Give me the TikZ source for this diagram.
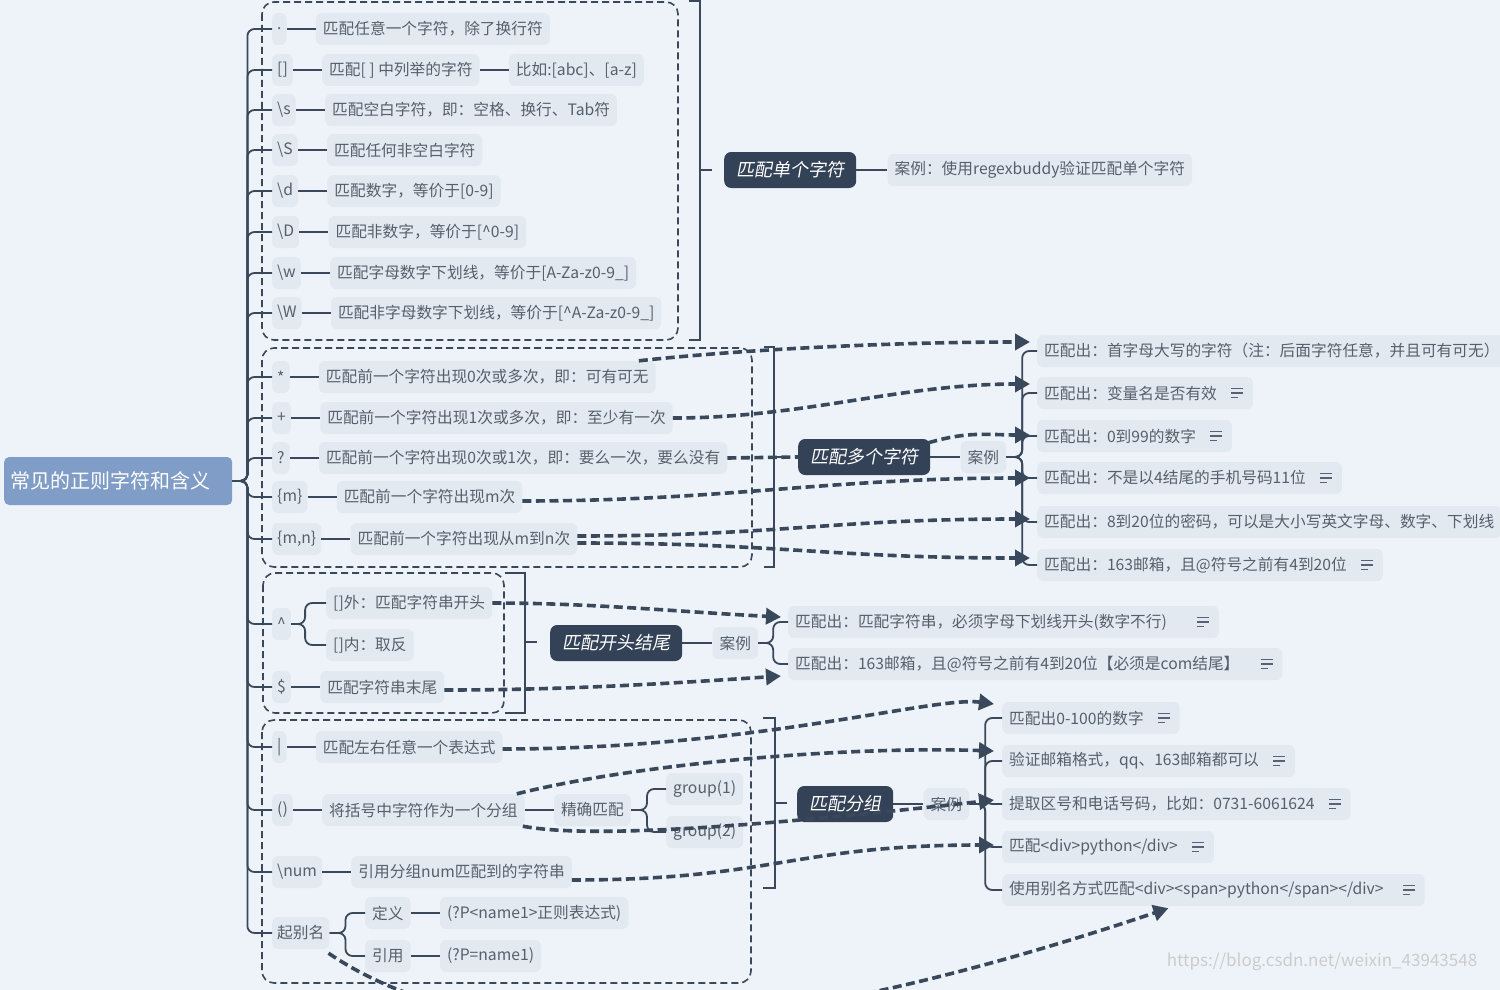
\documentclass[tikz,border=0pt]{standalone}
\usepackage{fontspec}
\setmainfont{Noto Sans CJK SC}
\newfontfamily\slantfont[FakeSlant=0.18]{Noto Sans CJK SC}
\usetikzlibrary{positioning,arrows.meta}
\usepackage{xcolor}
\definecolor{bgblue}{HTML}{EDF3F9}
\definecolor{leafbg}{HTML}{E2E9F1}
\definecolor{leaftext}{HTML}{56606C}
\definecolor{darknode}{HTML}{344258}
\definecolor{rootblue}{HTML}{7F9DC6}
\definecolor{linec}{HTML}{3A485C}

\begin{document}
\begin{tikzpicture}[x=1pt, y=-1pt, node distance=29pt,
        leaf/.style={fill=leafbg, text=leaftext, rounded corners=6pt,
            minimum height=32pt, inner xsep=7pt, inner ysep=2pt,
            font=\fontsize{15.7}{18}\selectfont},
        sym/.style={leaf, anchor=west, inner xsep=5pt},
        topic/.style={fill=darknode, text=white, rounded corners=7pt,
            minimum height=36pt, inner xsep=12pt,
            font=\slantfont\fontsize{18}{22}\selectfont},
        tree/.style={draw=linec, line width=1.8pt, rounded corners=7pt},
        groupbox/.style={draw=linec, line width=1.6pt, dash pattern=on 7pt off 4pt, rounded corners=12pt},
        brace/.style={draw=linec, line width=1.8pt},
        annline/.style={draw=linec, line width=3.6pt, dash pattern=on 9pt off 4.5pt},
        ann/.style={annline, -{Triangle[length=15pt,width=16pt]}},
        memo/.pic={\draw[linec!85, line width=1.4pt] (0,-4.5)--(12,-4.5) (0,0)--(12,0) (0,4.5)--(7,4.5);}
    ]
        \fill[bgblue] (0,0) rectangle (1500,990);
        \useasboundingbox (0,0) rectangle (1500,990);

        % dashed groups and their brackets
        \draw[groupbox] (262,2) rectangle (678,340);
        \draw[brace] (689,1) -- (700,1) -- (700,340) -- (689,340);
        \draw[groupbox] (262,348) rectangle (752,567);
        \draw[brace] (764,347) -- (774,347) -- (774,567) -- (764,567);
        \draw[groupbox] (263,573) rectangle (504,713);
        \draw[brace] (505,573) -- (525,573) -- (525,713) -- (505,713);
        \draw[groupbox] (262,720) rectangle (751,983);
        \draw[brace] (763,718) -- (775,718) -- (775,888) -- (763,888);

        \node (root) [fill=rootblue, text=white, rounded corners=5pt, minimum height=48pt,
            inner xsep=6pt, text width=216pt, align=left, anchor=west,
            font=\fontsize{20}{24}\selectfont] at (4,481) {常见的正则字符和含义};

        % single characters
        \node (dot) [sym] at (272,29) {.};
        \node (dotd) [leaf, right=of dot] {匹配任意一个字符，除了换行符};
        \node (brk) [sym] at (272,70) {[]};
        \node (brkd) [leaf, right=of brk] {匹配[ ] 中列举的字符};
        \node (brke) [leaf, right=of brkd] {比如:[abc]、[a-z]};
        \node (ss) [sym] at (272,110) {\textbackslash s};
        \node (ssd) [leaf, right=of ss] {匹配空白字符，即：空格、换行、Tab符};
        \node (bigs) [sym] at (272,150) {\textbackslash S};
        \node (bigsd) [leaf, right=of bigs] {匹配任何非空白字符};
        \node (dd) [sym] at (272,191) {\textbackslash d};
        \node (ddd) [leaf, right=of dd] {匹配数字，等价于[0-9]};
        \node (bigd) [sym] at (272,232) {\textbackslash D};
        \node (bigdd) [leaf, right=of bigd] {匹配非数字，等价于[\textasciicircum 0-9]};
        \node (ww) [sym] at (272,273) {\textbackslash w};
        \node (wwd) [leaf, right=of ww] {匹配字母数字下划线，等价于[A-Za-z0-9\_]};
        \node (bigw) [sym] at (272,313) {\textbackslash W};
        \node (bigwd) [leaf, right=of bigw] {匹配非字母数字下划线，等价于[\textasciicircum A-Za-z0-9\_]};

        \node (single) [topic, anchor=west] at (724,170) {匹配单个字符};
        \node (singlecase) [leaf, right=31pt of single] {案例：使用regexbuddy验证匹配单个字符};

        % several characters
        \node (star) [sym] at (272,377) {*};
        \node (stard) [leaf, right=of star] {匹配前一个字符出现0次或多次，即：可有可无};
        \node (plus) [sym] at (272,418) {+};
        \node (plusd) [leaf, right=of plus] {匹配前一个字符出现1次或多次，即：至少有一次};
        \node (qm) [sym] at (272,458) {?};
        \node (qmd) [leaf, right=of qm] {匹配前一个字符出现0次或1次，即：要么一次，要么没有};
        \node (rm) [sym] at (272,497) {\{m\}};
        \node (rmd) [leaf, right=of rm] {匹配前一个字符出现m次};
        \node (rmn) [sym] at (272,539) {\{m,n\}};
        \node (rmnd) [leaf, right=of rmn] {匹配前一个字符出现从m到n次};

        \node (multi) [topic, anchor=west] at (798,457) {匹配多个字符};
        \node (multicase) [leaf, right=30pt of multi] {案例};
        \node (m1) [leaf, anchor=west] at (1037,351) {匹配出：首字母大写的字符（注：后面字符任意，并且可有可无）};
        \node (m2) [leaf, anchor=west] at (1037,393) {匹配出：变量名是否有效\kern29pt};
        \node (m3) [leaf, anchor=west] at (1037,436) {匹配出：0到99的数字\kern29pt};
        \node (m4) [leaf, anchor=west] at (1037,478) {匹配出：不是以4结尾的手机号码11位\kern29pt};
        \node (m5) [leaf, anchor=west] at (1037,522) {匹配出：8到20位的密码，可以是大小写英文字母、数字、下划线};
        \node (m6) [leaf, anchor=west] at (1037,565) {匹配出：163邮箱，且@符号之前有4到20位\kern29pt};

        % start and end
        \node (caret) [sym] at (272,624) {\textasciicircum};
        \node (outside) [leaf, anchor=west] at (326,603) {[]外：匹配字符串开头};
        \node (inside) [leaf, anchor=west] at (326,645) {[]内：取反};
        \node (dollar) [sym] at (272,687) {\$};
        \node (dollard) [leaf, right=of dollar] {匹配字符串末尾};

        \node (anchors) [topic, anchor=west] at (550,643) {匹配开头结尾};
        \node (anchorcase) [leaf, right=30pt of anchors] {案例};
        \node (a1) [leaf, anchor=west] at (788,622) {匹配出：匹配字符串，必须字母下划线开头(数字不行)\kern45pt};
        \node (a2) [leaf, anchor=west] at (788,664) {匹配出：163邮箱，且@符号之前有4到20位【必须是com结尾】\kern36pt};

        % groups
        \node (bar) [sym] at (272,747) {|};
        \node (bard) [leaf, right=of bar] {匹配左右任意一个表达式};
        \node (paren) [sym] at (272,810) {()};
        \node (parend) [leaf, right=of paren] {将括号中字符作为一个分组};
        \node (exact) [leaf, right=of parend] {精确匹配};
        \node (g1) [leaf, anchor=west] at (666,789) {group(1)};
        \node (g2) [leaf, anchor=west] at (666,832) {group(2)};
        \node (num) [sym] at (272,872) {\textbackslash num};
        \node (numd) [leaf, right=of num] {引用分组num匹配到的字符串};
        \node (alias) [sym] at (272,933) {起别名};
        \node (def) [leaf, anchor=west] at (365,913) {定义};
        \node (defd) [leaf, right=of def] {(?P<name1>正则表达式)};
        \node (ref) [leaf, anchor=west] at (365,956) {引用};
        \node (refd) [leaf, right=of ref] {(?P=name1)};

        \node (groups) [topic, anchor=west] at (797,804) {匹配分组};
        \node (groupcase) [leaf, right=30pt of groups] {案例};
        \node (p1) [leaf, anchor=west] at (1002,718) {匹配出0-100的数字\kern29pt};
        \node (p2) [leaf, anchor=west] at (1002,761) {验证邮箱格式，qq、163邮箱都可以\kern29pt};
        \node (p3) [leaf, anchor=west] at (1002,804) {提取区号和电话号码，比如：0731-6061624\kern29pt};
        \node (p4) [leaf, anchor=west] at (1002,847) {匹配<div>python</div>\kern29pt};
        \node (p5) [leaf, anchor=west] at (1002,890) {使用别名方式匹配<div><span>python</span></div>\kern34pt};

        \node (mark) [text=gray!40, font=\fontsize{17}{20}\selectfont] at (1322,962) {https://blog.csdn.net/weixin\_43943548};

        \foreach \n in {m2,m3,m4,m6,a1,a2,p1,p2,p3,p4,p5}
            \pic at ([xshift=-22pt]\n.east) {memo};

        % tree lines
        \foreach \c in {dot,brk,ss,bigs,dd,bigd,ww,bigw,star,plus,qm,rm,rmn,caret,dollar,bar,paren,num,alias}
            \draw[tree] (root.east) -- ++(15,0) |- (\c.west);
        \foreach \a/\b in {dot/dotd,brk/brkd,brkd/brke,ss/ssd,bigs/bigsd,dd/ddd,bigd/bigdd,ww/wwd,bigw/bigwd,
                star/stard,plus/plusd,qm/qmd,rm/rmd,rmn/rmnd,dollar/dollard,bar/bard,paren/parend,
                parend/exact,num/numd,def/defd,ref/refd,single/singlecase,multi/multicase,
                anchors/anchorcase,groups/groupcase}
            \draw[tree] (\a) -- (\b);
        \foreach \m in {m1,m2,m3,m4,m5,m6}
            \draw[tree] (multicase.east) -- ++(16,0) |- (\m.west);
        \foreach \m in {a1,a2}
            \draw[tree] (anchorcase.east) -- ++(15,0) |- (\m.west);
        \foreach \m in {p1,p2,p3,p4,p5}
            \draw[tree] (groupcase.east) -- ++(16,0) |- (\m.west);
        \foreach \m in {outside,inside}
            \draw[tree] (caret.east) -- ++(14,0) |- (\m.west);
        \foreach \m in {g1,g2}
            \draw[tree] (exact.east) -- ++(16,0) |- (\m.west);
        \foreach \m in {def,ref}
            \draw[tree] (alias.east) -- ++(16,0) |- (\m.west);
        \draw[brace] (700,170) -- ([xshift=-12pt]single.west);
        \draw[brace] (774,457) -- ++(12,0);
        \draw[brace] (525,642) -- ++(12,0);
        \draw[brace] (775,803) -- ++(12,0);

        % hand-drawn arrows
        \draw[ann] ([xshift=-17pt]stard.north east) .. controls +(110,-12) and +(-130,0) .. ([xshift=-7pt,yshift=9pt]m1.west);
        \draw[ann] (plusd.east) .. controls +(130,0) and +(-130,0) .. ([xshift=-7pt,yshift=9pt]m2.west);
        \draw[annline] (qmd.east) -- (multi.west);
        \draw[ann] ([xshift=-2pt,yshift=-4pt]multi.north east) .. controls +(40,-12) and +(-40,0) .. ([xshift=-7pt,yshift=1pt]m3.west);
        \draw[ann] ([yshift=-4pt]rmd.east) .. controls +(200,0) and +(-200,0) .. ([xshift=-7pt]m4.west);
        \draw[ann] ([yshift=3pt]rmnd.east) .. controls +(200,0) and +(-200,0) .. ([xshift=-7pt,yshift=3pt]m5.west);
        \draw[ann] ([yshift=-4pt]rmnd.east) .. controls +(200,0) and +(-200,0) .. ([xshift=-7pt,yshift=7pt]m6.west);

        \draw[ann] (outside.east) .. controls +(100,0) and +(-100,-5) .. ([xshift=-7pt,yshift=5pt]a1.west);
        \draw[ann] ([yshift=-3pt]dollard.east) .. controls +(120,0) and +(-120,8) .. ([xshift=-7pt,yshift=-12pt]a2.west);

        \draw[ann] ([yshift=-2pt]bard.east) .. controls +(250,0) and +(-60,-8) .. ([xshift=-8pt,yshift=14pt]p1.west);
        \draw[ann] ([xshift=-8pt]parend.north east) .. controls +(120,-30) and +(-150,-5) .. ([xshift=-8pt,yshift=10pt]p2.west);
        \draw[ann] ([xshift=-2pt]parend.south east) .. controls +(80,15) and +(-180,20) .. ([xshift=-8pt,yshift=4pt]p3.west);
        \draw[ann] ([yshift=-8pt]numd.east) .. controls +(200,0) and +(-200,0) .. ([xshift=-8pt,yshift=2pt]p4.west);
        \draw[ann] ([xshift=-1pt,yshift=-4pt]alias.south east) .. controls (491,1063) and (767,1043) .. ([xshift=-45pt,yshift=-2pt]p5.south);
    \end{tikzpicture}
\end{document}
